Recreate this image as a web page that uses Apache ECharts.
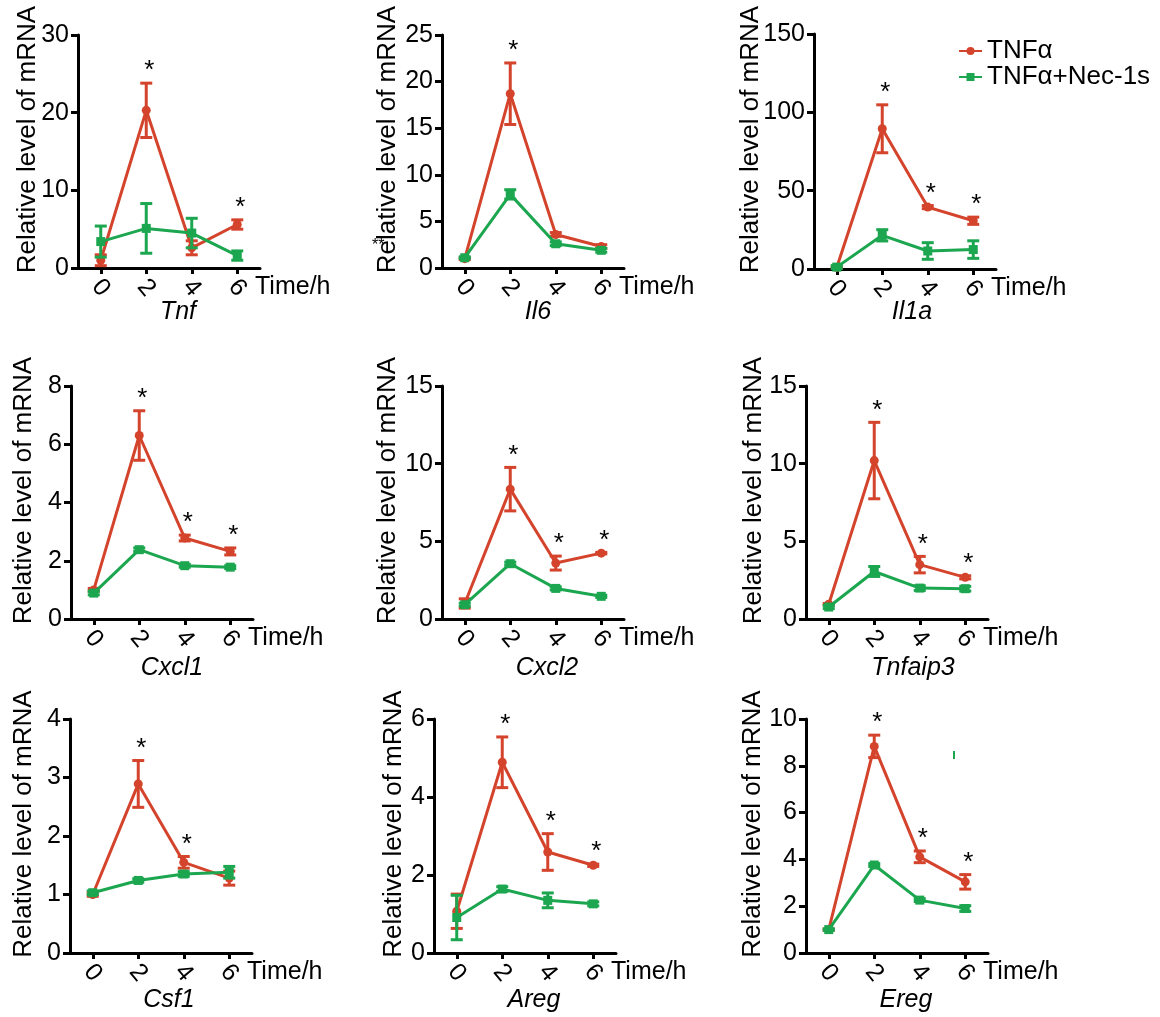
<!DOCTYPE html>
<html><head><meta charset="utf-8">
<script src="https://cdn.jsdelivr.net/npm/echarts@6/dist/echarts.min.js"></script>
<style>html,body{margin:0;padding:0;background:#fff}#c{width:1160px;height:1017px}</style>
</head><body><div id="c"></div>
<script>
// ---- data ----
const timepoints = ['0', '2', '4', '6'];
const genes = ['Tnf', 'Il6', 'Il1a', 'Cxcl1', 'Cxcl2', 'Tnfaip3', 'Csf1', 'Areg', 'Ereg'];
const yMax  = [30, 25, 150, 8, 15, 15, 4, 6, 10];
const yStep = [10, 5, 50, 2, 5, 5, 1, 2, 2];
// TNFα group (mean, error)
const tnfaMean = [
  [1.0, 20.3, 2.6, 5.6],
  [1.0, 18.7, 3.6, 2.3],
  [1.0, 89.5, 39.5, 30.8],
  [1.0, 6.3, 2.78, 2.32],
  [1.0, 8.36, 3.6, 4.24],
  [0.95, 10.2, 3.5, 2.68],
  [1.0, 2.89, 1.55, 1.28],
  [1.07, 4.89, 2.59, 2.25],
  [1.0, 8.83, 4.11, 3.04]
];
const tnfaErr = [
  [0.7, 3.5, 0.9, 0.6],
  [0.1, 3.3, 0.2, 0.2],
  [0.5, 15.3, 1.0, 2.3],
  [0.05, 0.85, 0.1, 0.12],
  [0.3, 1.4, 0.45, 0.05],
  [0.05, 2.46, 0.53, 0.1],
  [0.03, 0.4, 0.1, 0.12],
  [0.44, 0.65, 0.47, 0.03],
  [0.03, 0.48, 0.25, 0.31]
];
// TNFα+Nec-1s group (mean, error)
const necMean = [
  [3.4, 5.1, 4.5, 1.6],
  [1.1, 7.9, 2.6, 1.9],
  [1.2, 21.5, 11.5, 12.4],
  [0.89, 2.38, 1.83, 1.78],
  [0.92, 3.56, 1.97, 1.46],
  [0.77, 3.06, 1.99, 1.95],
  [1.03, 1.24, 1.35, 1.38],
  [0.91, 1.64, 1.35, 1.26],
  [1.0, 3.76, 2.26, 1.9]
];
const necErr = [
  [2.0, 3.2, 1.9, 0.6],
  [0.1, 0.5, 0.2, 0.2],
  [1.0, 3.6, 5.3, 5.6],
  [0.06, 0.06, 0.05, 0.05],
  [0.1, 0.1, 0.1, 0.07],
  [0.1, 0.32, 0.15, 0.15],
  [0.03, 0.03, 0.04, 0.1],
  [0.57, 0.06, 0.19, 0.05],
  [0.03, 0.06, 0.06, 0.12]
];
// significance marks (*) per time point
const significant = [
  [0, 1, 0, 1],
  [0, 1, 0, 0],
  [0, 1, 1, 1],
  [0, 1, 1, 1],
  [0, 1, 1, 1],
  [0, 1, 1, 1],
  [0, 1, 1, 0],
  [0, 1, 1, 1],
  [0, 1, 1, 1]
];
const seriesNames = ['TNFα', 'TNFα+Nec-1s'];

// ---- layout / style ----
const FONT = "'Liberation Sans', Arial, Helvetica, sans-serif";
const RED = '#D4432B', GREEN = '#1BA64F';
const gridBoxes = [
  [78, 35, 182, 233], [442, 35, 182, 233], [814, 34, 182, 235],
  [71, 386, 182, 233], [442, 386, 182, 233], [806, 386, 182, 233],
  [70, 719, 182, 234], [434, 719, 182, 234], [806, 719, 182, 234]
];
const yNameGaps = [37, 41, 50, 34, 41, 39, 33, 27, 40];
const geneLabelPos = [
  [178, 312], [538, 312], [912, 312],
  [172, 668], [547, 668], [913, 668],
  [169, 1000], [534, 1000], [906, 1000]
];

function errRender(color) {
  return function (params, api) {
    const i = api.value(0), m = api.value(1), e = api.value(2);
    const t = api.coord([i, m + e]);
    const b = api.coord([i, Math.max(m - e, 0)]);
    const hw = 6;
    const st = { stroke: color, lineWidth: 3 };
    return { type: 'group', children: [
      { type: 'line', shape: { x1: t[0], y1: t[1], x2: b[0], y2: b[1] }, style: st },
      { type: 'line', shape: { x1: t[0] - hw, y1: t[1], x2: t[0] + hw, y2: t[1] }, style: st },
      { type: 'line', shape: { x1: b[0] - hw, y1: b[1], x2: b[0] + hw, y2: b[1] }, style: st }
    ]};
  };
}
function starRender(params, api) {
  const i = api.value(0), top = api.value(1);
  const p = api.coord([i, top]);
  return { type: 'text', x: p[0] + 3, y: p[1] - 12,
    style: { text: '*', font: '26px ' + FONT, fill: '#000', align: 'center', verticalAlign: 'middle' } };
}

const grids = [], xAxes = [], yAxes = [], series = [], graphics = [];
genes.forEach((g, k) => {
  const [l, t, w, h] = gridBoxes[k];
  grids.push({ left: l, top: t, width: w, height: h, containLabel: false });
  xAxes.push({
    gridIndex: k, type: 'category', data: timepoints, boundaryGap: true,
    axisLine: { show: true, lineStyle: { color: '#000', width: 3 } },
    axisTick: { show: true, alignWithLabel: true, length: 6, lineStyle: { color: '#000', width: 3 } },
    axisLabel: { rotate: -50, fontSize: 25, margin: 20, color: '#000', fontFamily: FONT, interval: 0,
      align: 'center', verticalAlign: 'middle', hideOverlap: false },
    splitLine: { show: false },
    name: 'Time/h', nameLocation: 'end', nameGap: -5, nameMoveOverlap: false,
    nameTextStyle: { fontSize: 25, color: '#000', fontFamily: FONT, align: 'left', verticalAlign: 'top', padding: [7, 0, 0, 0] }
  });
  yAxes.push({
    gridIndex: k, type: 'value', min: 0, max: yMax[k], interval: yStep[k],
    name: 'Relative level of mRNA', nameLocation: 'middle', nameGap: yNameGaps[k], nameMoveOverlap: false,
    nameTextStyle: { fontSize: 26, color: '#000', fontFamily: FONT, padding: [0, 0, 0, 24] },
    axisLine: { show: true, lineStyle: { color: '#000', width: 3 } },
    axisTick: { show: true, length: 7, lineStyle: { color: '#000', width: 3 } },
    axisLabel: { fontSize: 25, color: '#000', margin: 9, fontFamily: FONT },
    splitLine: { show: false }
  });
  const groups = [
    { name: seriesNames[0], mean: tnfaMean[k], err: tnfaErr[k], color: RED, symbol: 'circle' },
    { name: seriesNames[1], mean: necMean[k], err: necErr[k], color: GREEN, symbol: 'rect' }
  ];
  groups.forEach((gr, gi) => {
    series.push({
      type: 'custom', name: 'err' + gi, xAxisIndex: k, yAxisIndex: k,
      renderItem: errRender(gr.color), z: 2 + gi * 2,
      data: gr.mean.map((m, i) => [i, m, gr.err[i]]),
      encode: { x: 0, y: 1 }, silent: true
    });
    series.push({
      type: 'line', name: gr.name, xAxisIndex: k, yAxisIndex: k,
      data: gr.mean, symbol: gr.symbol, symbolSize: 9, showSymbol: true,
      itemStyle: { color: gr.color }, lineStyle: { color: gr.color, width: 3 },
      z: 3 + gi * 2, animation: false
    });
  });
  series.push({
    type: 'custom', name: 'sig', xAxisIndex: k, yAxisIndex: k, renderItem: starRender, z: 10,
    data: significant[k].map((s, i) => s ? [i, tnfaMean[k][i] + tnfaErr[k][i]] : null).filter(d => d),
    encode: { x: 0, y: 1 }, silent: true
  });
  graphics.push({
    type: 'text', x: geneLabelPos[k][0], y: geneLabelPos[k][1],
    style: { text: g, font: 'italic 25px ' + FONT, fill: '#000', align: 'center', verticalAlign: 'middle' }
  });
});
// stray marks present in the source figure
graphics.push({ type: 'text', x: 372, y: 246,
  style: { text: '**', font: '16px ' + FONT, fill: '#000', align: 'left', verticalAlign: 'middle' } });
graphics.push({ type: 'rect', shape: { x: 953, y: 751, width: 2, height: 8 }, style: { fill: GREEN } });

const chart = echarts.init(document.getElementById('c'), null, { renderer: 'canvas' });
chart.setOption({
  animation: false,
  backgroundColor: '#fff',
  textStyle: { fontFamily: FONT },
  legend: {
    data: seriesNames, orient: 'vertical', left: 953, top: 33,
    itemWidth: 23, itemHeight: 10, itemGap: 0, selectedMode: false,
    textStyle: { fontSize: 26, color: '#000', fontFamily: FONT, padding: [0, 0, 0, 0] }
  },
  grid: grids, xAxis: xAxes, yAxis: yAxes, series: series, graphic: graphics
});
</script></body></html>
